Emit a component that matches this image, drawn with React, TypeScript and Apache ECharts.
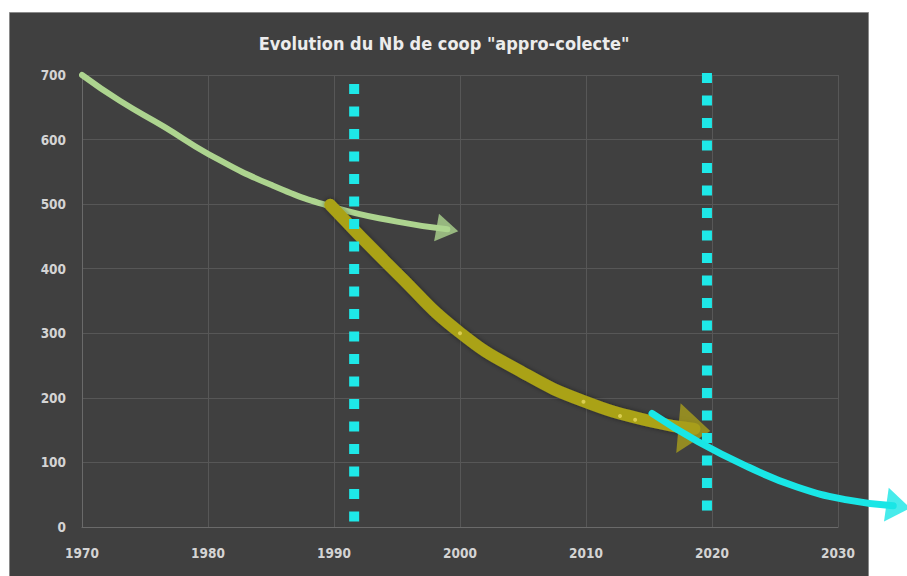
import React, { useEffect, useRef } from "react";
import * as echarts from "echarts";

const TITLE = 'Evolution du Nb de coop "appro-colecte"';
const X_MIN = 1970;
const X_MAX = 2030;
const X_MAX_EXT = 2036;
const Y_MIN = 0;
const Y_MAX = 700;

// Green arrow (1970 -> 2000)
const greenLine: [number, number][] = [
  [1970, 700], [1973, 660], [1976.5, 620], [1980, 578], [1985, 530], [1990, 495], [1995, 473], [1999.0, 461],
];
const greenHead: [number, number] = [1999.0, 461];

// Olive arrow (1990 -> 2020)
const oliveLine: [number, number][] = [
  [1989.7, 499], [1995, 393], [2000, 301], [2005, 239], [2009.8, 195], [2015.3, 163], [2018.6, 152],
];
const oliveHead: [number, number] = [2018.6, 151];
const oliveDots: [number, number][] = [
  [2000, 300], [2009.8, 194], [2012.7, 172], [2013.9, 166],
];

// Cyan arrow (2016 -> 2035)
const cyanLine: [number, number][] = [
  [2015.6, 176], [2019.3, 132], [2023.3, 93], [2027.2, 62], [2031.2, 42], [2034.9, 33],
];
const cyanHead: [number, number] = [2035.3, 32];

// Vertical dotted markers
const marker1: [number, number][] = [[1991.6, 686], [1991.6, 6]];
const marker2: [number, number][] = [[2019.6, 703], [2019.6, 14]];

const FONT = "'DejaVu Sans Condensed', 'Liberation Sans Narrow', 'Noto Sans', sans-serif";

export default function App() {
  const ref = useRef<HTMLDivElement>(null);
  useEffect(() => {
    document.body.style.margin = "0";
    const chart = echarts.init(ref.current!, null, { renderer: "svg" });
    const pxPerYear = 756 / (X_MAX - X_MIN);
    const option: any = {
      animation: false,
      backgroundColor: "#ffffff",
      title: {
        text: TITLE,
        left: 439,
        top: 29,
        textAlign: "center",
        textStyle: { color: "#ececec", fontSize: 18, fontWeight: "bold", fontFamily: FONT },
      },
      graphic: [
        {
          type: "rect",
          z: -100,
          shape: { x: 9.5, y: 12.5, width: 859, height: 570 },
          style: { fill: "#404040", stroke: "#8a8a8a", lineWidth: 1 },
        },
      ],
      grid: [
        { left: 82, right: 69, top: 75, bottom: 49, containLabel: false },
        { left: 82, width: pxPerYear * (X_MAX_EXT - X_MIN), top: 75, bottom: 49, containLabel: false },
      ],
      xAxis: [
        {
          type: "value",
          gridIndex: 0,
          min: X_MIN,
          max: X_MAX,
          interval: 10,
          axisLine: { show: true, lineStyle: { color: "#6a6a6a", width: 1 } },
          axisTick: { show: false },
          splitLine: { show: true, lineStyle: { color: "#575757", width: 1 } },
          axisLabel: {
            color: "#d4d4d4",
            fontSize: 13.5,
            fontWeight: "bold",
            fontFamily: FONT,
            margin: 19,
            formatter: (v: number) => String(v),
          },
        },
        {
          type: "value",
          gridIndex: 1,
          min: X_MIN,
          max: X_MAX_EXT,
          show: false,
        },
      ],
      yAxis: [
        {
          type: "value",
          gridIndex: 0,
          min: Y_MIN,
          max: Y_MAX,
          interval: 100,
          axisLine: { show: true, lineStyle: { color: "#6a6a6a", width: 1 } },
          axisTick: { show: false },
          splitLine: { show: true, lineStyle: { color: "#575757", width: 1 } },
          axisLabel: { color: "#d4d4d4", fontSize: 13.5, fontWeight: "bold", fontFamily: FONT, margin: 16 },
        },
        {
          type: "value",
          gridIndex: 1,
          min: Y_MIN,
          max: Y_MAX,
          show: false,
        },
      ],
      series: [
        {
          type: "line",
          data: greenLine,
          smooth: true,
          symbol: "none",
          clip: false,
          z: 3,
          lineStyle: { color: "#add48f", width: 6, cap: "round" },
        },
        {
          type: "scatter",
          data: [greenHead],
          symbol: "triangle",
          symbolSize: [28, 22],
          symbolRotate: -100,
          clip: false,
          z: 3,
          itemStyle: { color: "#add48f" },
        },
        {
          type: "line",
          data: oliveLine,
          smooth: true,
          symbol: "none",
          clip: false,
          z: 4,
          lineStyle: {
            color: "#aaa218",
            width: 12,
            cap: "round",
            shadowColor: "rgba(0,0,0,0.45)",
            shadowBlur: 5,
          },
        },
        {
          type: "scatter",
          data: [oliveHead],
          symbol: "triangle",
          symbolSize: [50, 32],
          symbolRotate: -95,
          clip: false,
          z: 4,
          itemStyle: { color: "#a89e1c" },
        },
        {
          type: "scatter",
          data: oliveDots,
          symbol: "circle",
          symbolSize: 4,
          z: 5,
          itemStyle: { color: "#e6d860" },
        },
        {
          type: "line",
          data: marker1,
          symbol: "none",
          clip: false,
          z: 6,
          lineStyle: { color: "#1ee8e8", width: 10, type: [10, 12.5], cap: "butt" },
        },
        {
          type: "line",
          data: marker2,
          symbol: "none",
          clip: false,
          z: 6,
          lineStyle: { color: "#1ee8e8", width: 10, type: [10, 12.5], cap: "butt" },
        },
        {
          type: "line",
          xAxisIndex: 1,
          yAxisIndex: 1,
          data: cyanLine,
          smooth: true,
          symbol: "none",
          clip: false,
          z: 7,
          lineStyle: { color: "#19e6e6", width: 7, cap: "round" },
        },
        {
          type: "scatter",
          xAxisIndex: 1,
          yAxisIndex: 1,
          data: [cyanHead],
          symbol: "triangle",
          symbolSize: [34, 24],
          symbolRotate: -98,
          clip: false,
          z: 7,
          itemStyle: { color: "#19e6e6" },
        },
      ],
    };
    chart.setOption(option);
    return () => chart.dispose();
  }, []);
  return <div ref={ref} style={{ width: 907, height: 576 }} />;
}
